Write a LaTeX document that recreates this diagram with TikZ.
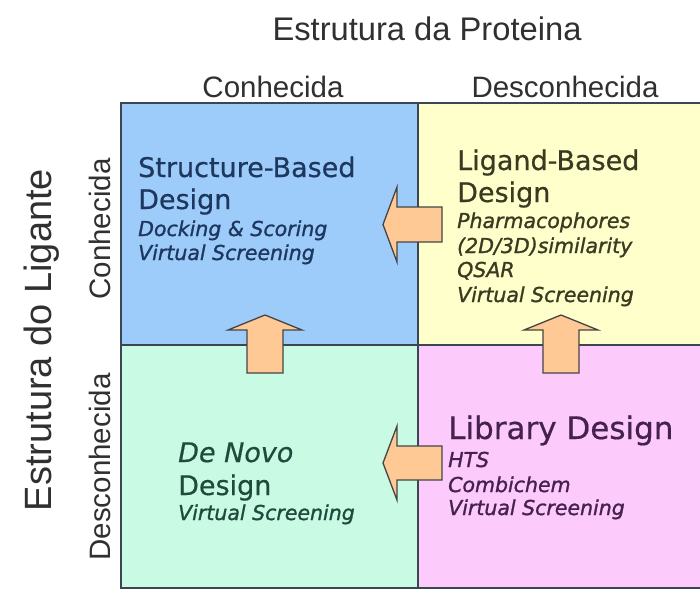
\documentclass[tikz,border=0pt]{standalone}
\usepackage{fontspec}
\setmainfont{Liberation Sans}
\newfontfamily\vfont[FakeBold=0.5]{DejaVu Sans}
\newfontfamily\vitfont[FakeBold=1.2]{DejaVu Sans}

\definecolor{qblue}{HTML}{9DCCFB}
\definecolor{qyellow}{HTML}{FFFFCC}
\definecolor{qgreen}{HTML}{C8FAE4}
\definecolor{qpink}{HTML}{FCCBFC}
\definecolor{gridc}{HTML}{3A4650}
\definecolor{arrowfill}{HTML}{FFC996}
\definecolor{arrowline}{HTML}{454545}
\definecolor{labelc}{HTML}{303030}
\definecolor{sbc}{HTML}{1E375F}
\definecolor{lbc}{HTML}{3A3A22}
\definecolor{dnc}{HTML}{1F4A3C}
\definecolor{ldc}{HTML}{452050}

\begin{document}
\begin{tikzpicture}[x=1pt,y=-1pt,
  quad/.style={draw=none, inner sep=0pt, outer sep=0pt, anchor=north west},
  gridline/.style={draw=gridc, line width=2pt},
  blockarrow/.style={fill=arrowfill, draw=arrowline, line width=1.3pt, line join=miter},
  axistitle/.style={font=\fontsize{32.7}{36}\selectfont, text=labelc, inner sep=0pt, anchor=base},
  sidetitle/.style={font=\fontsize{38}{42}\selectfont, text=labelc, inner sep=0pt, anchor=base, rotate=90},
  colhead/.style={font=\fontsize{29.5}{32}\selectfont, text=labelc, inner sep=0pt, anchor=base},
  rowhead/.style={colhead, rotate=90},
  bigline/.style={font=\vfont\fontsize{27}{30}\selectfont, inner sep=0pt, anchor=base west},
  itline/.style={font=\vitfont\itshape\fontsize{20.5}{24}\selectfont, inner sep=0pt, anchor=base west}
]
\useasboundingbox (0,0) rectangle (700,591);
\fill[white] (0,0) rectangle (700,591);

% the four quadrants of the matrix
\node[quad, fill=qblue,   minimum width=297pt, minimum height=242pt] (sb)  at (121,103) {};
\node[quad, fill=qyellow, minimum width=283pt, minimum height=242pt] (lb)  at (418,103) {};
\node[quad, fill=qgreen,  minimum width=297pt, minimum height=243pt] (dn)  at (121,345) {};
\node[quad, fill=qpink,   minimum width=283pt, minimum height=243pt] (lib) at (418,345) {};

% grid lines
\draw[gridline] (sb.north west) rectangle (lib.south east);
\draw[gridline] (sb.north east) -- (dn.south east);
\draw[gridline] (sb.south west) -- (lb.south east);

% axis titles and headings
\node[axistitle] (ptitle) at (427,41) {Estrutura da Proteina};
\node[colhead] (pknown)   at (273,97) {Conhecida};
\node[colhead] (punknown) at (565,97) {Desconhecida};
\node[sidetitle] (ltitle)  at (51,340) {Estrutura do Ligante};
\node[rowhead] (lknown)    at (110,229) {Conhecida};
\node[rowhead] (lunknown)  at (110,467) {Desconhecida};

% structure-based design
\node[bigline, text=sbc] (sb1) at (138,177) {Structure-Based};
\node[bigline, text=sbc] (sb2) at (138,209) {Design};
\node[itline, text=sbc]  (sb3) at (138,236) {Docking \& Scoring};
\node[itline, text=sbc]  (sb4) at (138,260) {Virtual Screening};

% ligand-based design
\node[bigline, text=lbc] (lb1) at (457,170) {Ligand-Based};
\node[bigline, text=lbc] (lb2) at (457,202) {Design};
\node[itline, text=lbc]  (lb3) at (457,228) {Pharmacophores};
\node[itline, text=lbc]  (lb4) at (457,253) {(2D/3D)similarity};
\node[itline, text=lbc]  (lb5) at (457,277) {QSAR};
\node[itline, text=lbc]  (lb6) at (457,302) {Virtual Screening};

% de novo design
\node[bigline, text=dnc, font=\vfont\itshape\fontsize{27}{30}\selectfont] (dn1) at (178,462) {De Novo};
\node[bigline, text=dnc] (dn2) at (178,495) {Design};
\node[itline, text=dnc]  (dn3) at (178,520) {Virtual Screening};

% library design
\node[bigline, text=ldc, font=\vfont\fontsize{31}{34}\selectfont] (ld1) at (448,439) {Library Design};
\node[itline, text=ldc]  (ld2) at (448,467) {HTS};
\node[itline, text=ldc]  (ld3) at (448,492) {Combichem};
\node[itline, text=ldc]  (ld4) at (448,515) {Virtual Screening};

% block arrows between the quadrants
\draw[blockarrow] (442,207) -- (397,207) -- (397,187) -- (383,224.5) -- (397,262) -- (397,242) -- (442,242) -- cycle;
\draw[blockarrow] (442,446) -- (397,446) -- (397,426) -- (383,463) -- (397,500) -- (397,480) -- (442,480) -- cycle;
\draw[blockarrow] (247,373) -- (247,330) -- (228,330) -- (265,315) -- (302,330) -- (283,330) -- (283,373) -- cycle;
\draw[blockarrow] (543,373) -- (543,330) -- (524,330) -- (561,315) -- (598,330) -- (579,330) -- (579,373) -- cycle;
\end{tikzpicture}
\end{document}
